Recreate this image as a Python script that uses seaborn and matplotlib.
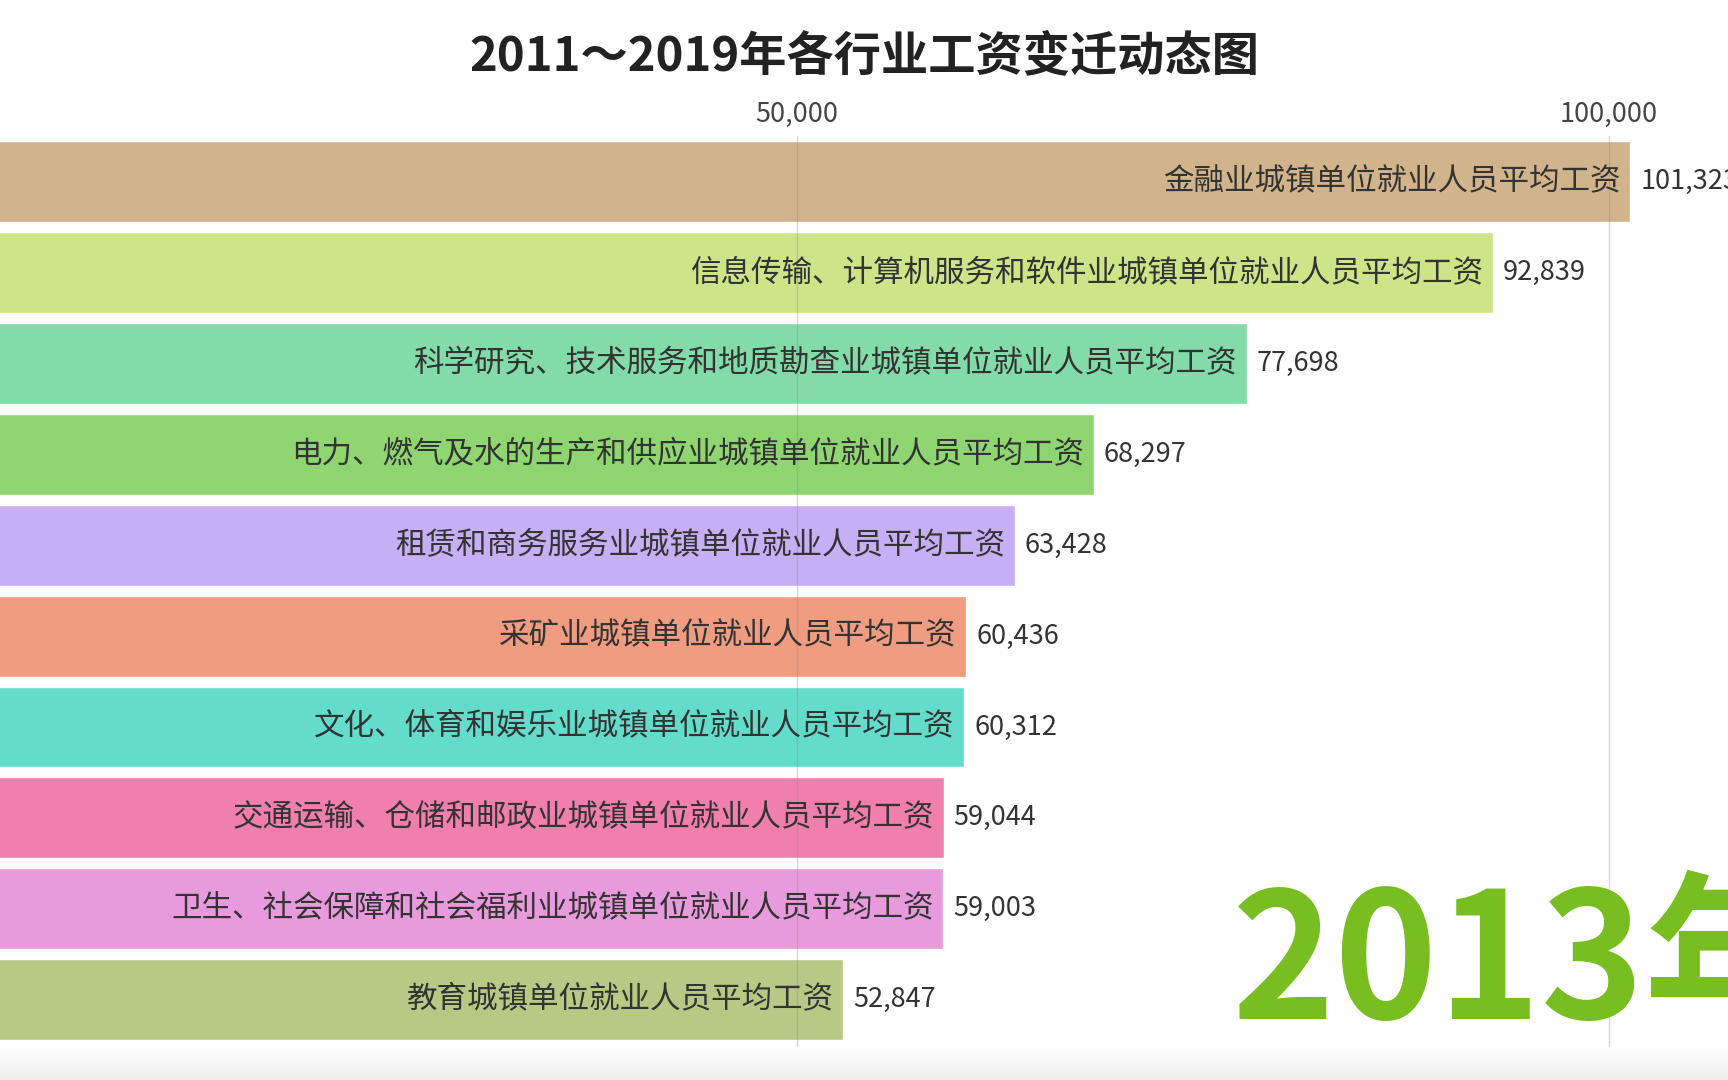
import numpy as np
import pandas as pd
import matplotlib
matplotlib.use('Agg')
import matplotlib.pyplot as plt
import seaborn as sns

# 数据：2013年各行业城镇单位就业人员平均工资
industries = [
    '金融业城镇单位就业人员平均工资',
    '信息传输、计算机服务和软件业城镇单位就业人员平均工资',
    '科学研究、技术服务和地质勘查业城镇单位就业人员平均工资',
    '电力、燃气及水的生产和供应业城镇单位就业人员平均工资',
    '租赁和商务服务业城镇单位就业人员平均工资',
    '采矿业城镇单位就业人员平均工资',
    '文化、体育和娱乐业城镇单位就业人员平均工资',
    '交通运输、仓储和邮政业城镇单位就业人员平均工资',
    '卫生、社会保障和社会福利业城镇单位就业人员平均工资',
    '教育城镇单位就业人员平均工资',
]
wages = [101323, 92839, 77698, 68297, 63428, 60436, 60312, 59044, 59003, 52847]
colors = ['#d2b48c', '#cde488', '#82dba8', '#8fd673', '#c6aff5',
          '#ef9c80', '#63dccb', '#f07fae', '#e89bdc', '#b8c986']
year_label = '2013年'
title = '2011～2019年各行业工资变迁动态图'

df = pd.DataFrame({'industry': industries, 'wage': wages})

sns.set_theme(style='white')
plt.rcParams['font.family'] = ['Noto Sans CJK SC', 'DejaVu Sans']

fig = plt.figure(figsize=(17.28, 10.8), dpi=100)
ax = fig.add_axes([0, 1 - 1047 / 1080, 1, (1047 - 136) / 1080])

sns.barplot(data=df, x='wage', y='industry', hue='industry',
            palette=colors, legend=False, orient='h', width=0.89,
            saturation=1, ax=ax)

ax.set_xlim(924, 107328)
ax.set_ylim(9.52, -0.5)

# 网格线（画在柱子上方，半透明）
ax.set_axisbelow(False)
ax.set_xticks([50000, 100000])
ax.set_xticklabels(['50,000', '100,000'])
ax.xaxis.tick_top()
ax.tick_params(axis='x', length=0, pad=6, labelsize=19.5, labelcolor='#444444')
ax.grid(axis='x', color='#888888', alpha=0.35, lw=1)
ax.grid(axis='y', visible=False)
ax.set_yticks([])
ax.set_xlabel('')
ax.set_ylabel('')
for s in ax.spines.values():
    s.set_visible(False)

# 柱内行业名称与柱外数值
for i, (name, v) in enumerate(zip(industries, wages)):
    ax.annotate(name, (v, i), xytext=(-7, 0), textcoords='offset points',
                ha='right', va='center', fontsize=22, color='#333333')
    ax.annotate(f'{v:,}', (v, i), xytext=(7, 0), textcoords='offset points',
                ha='left', va='center', fontsize=19.5, color='#333333',
                annotation_clip=False)

# 年份大字
ax.text(1232 / 1728, 1 - 1019 / 1080, year_label, transform=fig.transFigure,
        fontsize=126, fontweight='bold', color='#78be20',
        ha='left', va='baseline')

fig.suptitle(title, x=0.5, y=1 - 56 / 1080, va='center',
             fontsize=34, fontweight='bold', color='#222222')

# 底部灰色渐变带
bax = fig.add_axes([0, 0, 1, 32 / 1080])
grad = np.linspace(0, 1, 64).reshape(-1, 1)
bax.imshow(grad, aspect='auto', cmap=matplotlib.colors.LinearSegmentedColormap.from_list(
    'g', ['#ffffff', '#ececec']), origin='upper', extent=[0, 1, 0, 1])
bax.axis('off')

fig.savefig('out.png', dpi=100)
